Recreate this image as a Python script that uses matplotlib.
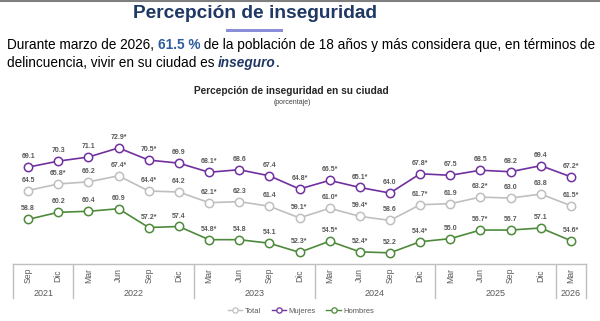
import matplotlib
matplotlib.use("Agg")
import matplotlib.pyplot as plt
from matplotlib.lines import Line2D
from matplotlib.patches import Rectangle
import matplotlib.transforms as mtransforms

plt.rcParams['font.family'] = ['Liberation Sans', 'DejaVu Sans']

# ---- data ----
months = ["Sep", "Dic",
          "Mar", "Jun", "Sep", "Dic",
          "Mar", "Jun", "Sep", "Dic",
          "Mar", "Jun", "Sep", "Dic",
          "Mar", "Jun", "Sep", "Dic",
          "Mar"]
years = ["2021", "2022", "2023", "2024", "2025", "2026"]
months_per_year = [2, 4, 4, 4, 4, 1]

mujeres = [69.1, 70.3, 71.1, 72.9, 70.5, 69.9, 68.1, 68.6, 67.4, 64.8,
           66.5, 65.1, 64.0, 67.8, 67.5, 68.5, 68.2, 69.4, 67.2]
mujeres_sig = [0, 0, 0, 1, 1, 0, 1, 0, 0, 1, 1, 1, 0, 1, 0, 0, 0, 0, 1]
total = [64.5, 65.8, 66.2, 67.4, 64.4, 64.2, 62.1, 62.3, 61.4, 59.1,
         61.0, 59.4, 58.6, 61.7, 61.9, 63.2, 63.0, 63.8, 61.5]
total_sig = [0, 1, 0, 1, 1, 0, 1, 0, 0, 1, 1, 1, 0, 1, 0, 1, 0, 0, 1]
hombres = [58.8, 60.2, 60.4, 60.9, 57.2, 57.4, 54.8, 54.8, 54.1, 52.3,
           54.5, 52.4, 52.2, 54.4, 55.0, 56.7, 56.7, 57.1, 54.6]
hombres_sig = [0, 0, 0, 0, 1, 0, 1, 0, 0, 1, 1, 1, 0, 1, 0, 1, 0, 0, 1]

W, H = 600, 321
fig = plt.figure(figsize=(W / 100, H / 100), dpi=100)
fig.patch.set_facecolor("white")


def fx(x):
    return x / W


def fy(y):
    return 1 - y / H


# ---- header ----
navy = "#1F3864"
fig.add_artist(Line2D([0, 1], [fy(0.8), fy(0.8)], color="#7F7F7F", lw=1.5))
fig.text(fx(255), fy(14), "Percepción de inseguridad", ha="center", va="center",
         fontsize=13.8, fontweight="bold", color=navy)
fig.add_artist(Rectangle((fx(226), fy(31.8)), fx(57), 3.2 / H,
                         color="#8A8ED8", lw=0))

renderer = fig.canvas.get_renderer()


def run_line(pieces, x0, y):
    x = x0
    for txt, kw in pieces:
        t = fig.text(fx(x), fy(y), txt, ha="left", va="center",
                     fontsize=9.85, **kw)
        bb = t.get_window_extent(renderer=renderer)
        x += bb.width


run_line([("Durante marzo de 2026, ", dict(color="black")),
          ("61.5 %", dict(color="#2F5C9E", fontweight="bold")),
          (" de la población de 18 años y más considera que, en términos de",
           dict(color="black"))], 7, 45)
run_line([("delincuencia, vivir en su ciudad es ", dict(color="black")),
          ("inseguro", dict(color=navy, fontweight="bold", style="italic")),
          (".", dict(color="black"))], 7, 63)

fig.text(fx(291.5), fy(91.5), "Percepción de inseguridad en su ciudad",
         ha="center", va="center", fontsize=7.3, fontweight="bold", color="#262626")
fig.text(fx(292), fy(102), "(porcentaje)", ha="center", va="center",
         fontsize=5, color="#404040")

# ---- chart ----
ax = fig.add_axes([fx(13), fy(264), fx(586) - fx(13), (264 - 80) / H])
ax.set_xlim(-0.5, 18.5)
ax.set_ylim(50, 86.3)
ax.set_facecolor("none")
for s in ("top", "left", "right"):
    ax.spines[s].set_visible(False)
ax.spines["bottom"].set_color("#BFBFBF")
ax.spines["bottom"].set_linewidth(1.0)
ax.set_xticks([])
ax.set_yticks([])

x = list(range(len(months)))
series = [("Total", total, total_sig, "#BFBFBF"),
          ("Mujeres", mujeres, mujeres_sig, "#7030A0"),
          ("Hombres", hombres, hombres_sig, "#4E8A3C")]
handles = []
for name, vals, sig, col in series:
    ax.plot(x, vals, color=col, lw=1.2, marker="o", ms=6,
            mfc="white", mec=col, mew=1.1, clip_on=False, zorder=3,
            label=name)
    handles.append(Line2D([], [], color=col, lw=1.0, marker="o", ms=3.8,
                          mfc="white", mec=col, mew=0.9))
    for xi, v, s in zip(x, vals, sig):
        lab = f"{v:.1f}" + ("*" if s else "")
        ax.annotate(lab, (xi, v), xytext=(0, 7.5), textcoords="offset points",
                    ha="center", va="center", fontsize=5, fontweight="bold",
                    color="#595959", zorder=4)

# category table under the plot
trans = mtransforms.blended_transform_factory(ax.transData, ax.transAxes)
depth = (298 - 264) / (264 - 80)
bounds = [-0.5]
acc = -0.5
for n in months_per_year:
    acc += n
    bounds.append(acc)
for b in bounds:
    ax.plot([b, b], [0, -depth], transform=trans, color="#BFBFBF", lw=1.0,
            clip_on=False)
for xi, m in zip(x, months):
    ax.text(xi, -(275.5 - 264) / 184, m, transform=trans, rotation=90,
            ha="center", va="center", fontsize=6.2, color="#595959")
for i, yr in enumerate(years):
    cx = (bounds[i] + bounds[i + 1]) / 2
    ax.text(cx, -(293.5 - 264) / 184, yr, transform=trans, ha="center",
            va="center", fontsize=6.5, color="#595959")

fig.legend(handles, [s[0] for s in series], loc="center",
           bbox_to_anchor=(fx(301), fy(311)), ncol=3, frameon=False,
           fontsize=5.5, handlelength=1.9, handletextpad=0.3,
           columnspacing=1.4, labelcolor="#595959")

fig.savefig("out.png", dpi=100, facecolor="white")
